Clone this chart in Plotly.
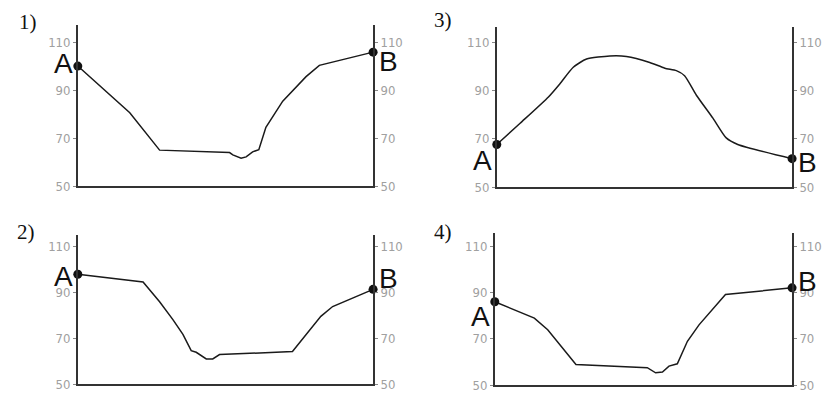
import plotly.graph_objects as go

# ---- data (distance 0..100 from A to B, elevation) ----
p1_x = [0, 17.6, 27.7, 51.4, 52.5, 55.3, 57.0, 59.2, 61.3, 63.7, 69.4, 77.3, 81.8, 100]
p1_y = [100, 80.6, 65.0, 64.0, 63.0, 61.6, 62.2, 64.3, 65.2, 74.5, 85.4, 95.6, 100.3, 105.8]

p2_x = [0, 22.1, 27.7, 32.2, 35.6, 38.4, 40.1, 43.5, 45.7, 48.0, 72.7, 77.3, 82.3, 86.3, 100]
p2_y = [98, 94.6, 86.0, 78.2, 71.7, 64.6, 63.9, 61.0, 61.0, 62.9, 64.2, 71.7, 79.6, 83.9, 91.4]

p3_x = [0, 7.9, 17.5, 21.4, 25.9, 30.4, 38.3, 43.9, 51.8, 56.9, 60.8, 63.6, 67.6, 73.2, 77.7, 81.6, 100]
p3_y = [67.7, 76.5, 87.4, 92.9, 99.7, 103.1, 104.4, 104.2, 101.7, 99.3, 98.3, 96.2, 88.1, 78.6, 70.4, 67.7, 61.8]

p4_x = [0, 13.3, 17.8, 27.3, 51.3, 54.1, 56.4, 58.6, 61.4, 64.8, 68.7, 77.6, 100]
p4_y = [86, 78.9, 73.9, 58.9, 57.5, 55.3, 55.6, 58.2, 59.2, 68.9, 76.0, 89.1, 92]

tick_vals = [50, 70, 90, 110]
tick_text = ["50", "70", "90", "110"]
panel_names = ["1)", "2)", "3)", "4)"]

profiles = [(p1_x, p1_y), (p2_x, p2_y), (p3_x, p3_y), (p4_x, p4_y)]

W, H = 822, 396
# pixel boxes: (left, right, top, bottom, ymax)
boxes = [
    (78, 374, 26, 190, 116.9),
    (78, 374, 240, 392, 115.1),
    (498, 794, 28, 191, 116.2),
    (496, 794, 238, 393, 115.6),
]
# label shifts (A, B)
ab_shift = [(3, -9), (-2, 11), (-16, -4), (-15, 6)]
name_pos = [(17, 8), (15, 222), (433, 6), (433, 222)]

fig = go.Figure()
layout = dict(width=W, height=H, margin=dict(l=0, r=0, t=0, b=0),
              paper_bgcolor="white", plot_bgcolor="white", showlegend=False)

tick_font = dict(family="Liberation Sans Narrow, DejaVu Sans Condensed, sans-serif", size=13, color="#a0a0a0")
annotations = []
for i, ((xs, ys), (l, r, t, b, ymax)) in enumerate(zip(profiles, boxes)):
    n = i + 1
    xa = "x" if n == 1 else f"x{n}"
    ya = "y" if n == 1 else f"y{n}"
    yb = f"y{n+4}"
    smooth = "spline" if n == 3 else "linear"
    fig.add_trace(go.Scatter(x=xs, y=ys, xaxis=xa, yaxis=ya, mode="lines",
                             line=dict(color="#1a1a1a", width=1.5, shape=smooth, smoothing=0.6),
                             cliponaxis=False, hoverinfo="skip"))
    fig.add_trace(go.Scatter(x=[xs[0], xs[-1]], y=[ys[0], ys[-1]], xaxis=xa, yaxis=ya,
                             mode="markers", marker=dict(color="#111", size=9),
                             cliponaxis=False, hoverinfo="skip"))
    fig.add_trace(go.Scatter(x=xs, y=ys, xaxis=xa, yaxis=yb, mode="lines",
                             line=dict(width=0), opacity=0, hoverinfo="skip"))
    xd = [l / W, r / W]
    yd = [1 - b / H, 1 - t / H]
    layout["xaxis" if n == 1 else f"xaxis{n}"] = dict(
        domain=xd, range=[0, 100], anchor=ya, showgrid=False, zeroline=False,
        showticklabels=False, ticks="", showline=True, linecolor="#333", linewidth=1.5)
    common = dict(range=[50, ymax], tickvals=tick_vals, ticktext=tick_text,
                  showgrid=False, zeroline=False, showline=True, linecolor="#333",
                  linewidth=1.5, ticks="outside", ticklen=3, tickcolor="#888",
                  tickfont=tick_font)
    layout["yaxis" if n == 1 else f"yaxis{n}"] = dict(domain=yd, anchor=xa, side="left", **common)
    layout[f"yaxis{n+4}"] = dict(overlaying=ya, anchor=xa, side="right", **common)
    sa, sb = ab_shift[i]
    annotations.append(dict(x=0, y=ys[0], xref=xa, yref=ya, text="A", showarrow=False,
                            xanchor="right", yanchor="middle", xshift=-3, yshift=sa,
                            font=dict(family="Liberation Sans, Arial, sans-serif", size=28, color="#111")))
    annotations.append(dict(x=100, y=ys[-1], xref=xa, yref=ya, text="B", showarrow=False,
                            xanchor="left", yanchor="middle", xshift=4, yshift=sb,
                            font=dict(family="Liberation Sans, Arial, sans-serif", size=28, color="#111")))
    px, py = name_pos[i]
    annotations.append(dict(x=px / W, y=1 - py / H, xref="paper", yref="paper", text=panel_names[i],
                            showarrow=False, xanchor="left", yanchor="top",
                            font=dict(family="Liberation Serif, Times New Roman, serif", size=21, color="#111")))

layout["annotations"] = annotations
fig.update_layout(**layout)
fig.write_html("out.html", config={"displayModeBar": False},
               post_script="document.body.style.margin='0';document.body.style.overflow='hidden';")
